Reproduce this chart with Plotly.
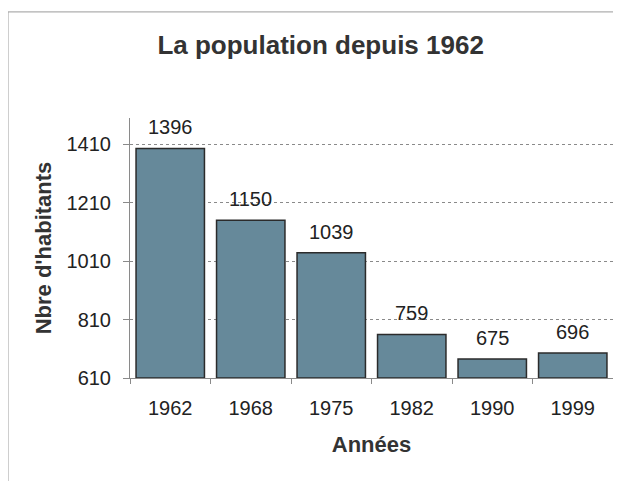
import plotly.graph_objects as go

years = ["1962", "1968", "1975", "1982", "1990", "1999"]
population = [1396, 1150, 1039, 759, 675, 696]
y_ticks = [610, 810, 1010, 1210, 1410]
axis_base = 610

title_text = "La population depuis 1962"
x_title = "Années"
y_title = "Nbre d'habitants"

font_family = "Liberation Sans, Arial, sans-serif"

fig = go.Figure()
fig.add_trace(go.Bar(
    x=years, y=[v - axis_base for v in population], base=axis_base,
    marker=dict(color="#66899a", line=dict(color="#2b2b2b", width=1.5)),
))

for i, v in enumerate(population):
    fig.add_annotation(x=i, y=v, xref="x", yref="y", text=str(v), showarrow=False,
                       yanchor="bottom", yshift=8,
                       font=dict(size=20, color="#222", family=font_family))

fig.update_layout(
    width=613, height=473,
    margin=dict(l=122, r=8, t=110, b=103),
    paper_bgcolor="white", plot_bgcolor="white",
    showlegend=False,
    bargap=0.15,
    title=dict(text="<b>" + title_text + "</b>", x=0.51, xanchor="center",
               y=1 - 37 / 473, yanchor="middle",
               font=dict(size=26, color="#333", family=font_family)),
    font=dict(family=font_family, color="#222"),
    shapes=[dict(type="line", xref="paper", yref="paper",
                 x0=-0.2526, x1=1.02, y0=1.408, y1=1.408,
                 line=dict(color="#9a9a9a", width=1)),
            dict(type="line", xref="paper", yref="paper",
                 x0=-0.2526, x1=-0.2526, y0=1.408, y1=-0.40,
                 line=dict(color="#9a9a9a", width=1))],
)
fig.update_yaxes(
    range=[610, 1500], tickvals=y_ticks, ticktext=[str(t) for t in y_ticks],
    showgrid=True, gridcolor="#8a8a8a", griddash="dot", gridwidth=1,
    showline=True, linecolor="#8a8a8a", linewidth=1,
    ticks="outside", ticklen=6, tickcolor="#8a8a8a", ticklabelstandoff=8,
    tickfont=dict(size=20, color="#222"),
    title=dict(text="<b>" + y_title + "</b>", font=dict(size=22, color="#333"), standoff=8),
    zeroline=False,
)
fig.update_xaxes(
    type="category", range=[-0.5, len(years) - 0.5],
    showline=True, linecolor="#8a8a8a", linewidth=1,
    ticks="outside", ticklen=5, tickcolor="#8a8a8a", tickson="boundaries",
    ticklabelstandoff=12,
    tickfont=dict(size=20, color="#222"),
    title=dict(text="<b>" + x_title + "</b>", font=dict(size=22, color="#333"), standoff=18),
)

fig.write_html("out.html")
